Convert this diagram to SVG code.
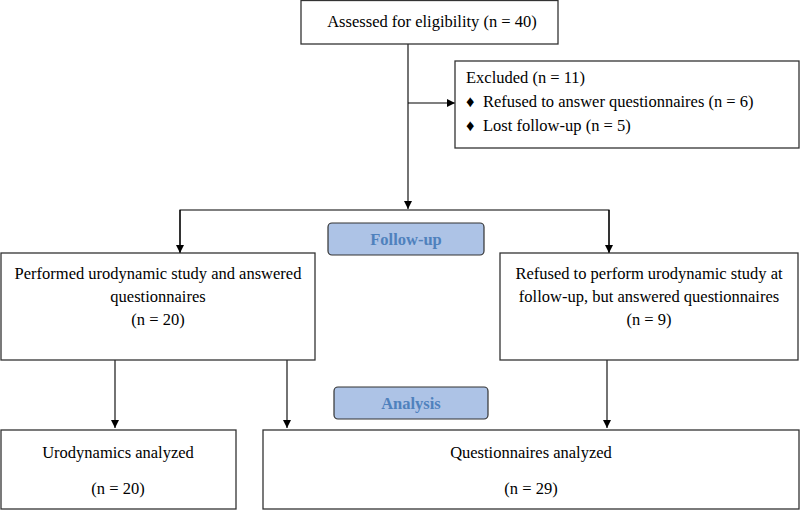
<svg xmlns="http://www.w3.org/2000/svg" width="800" height="510" viewBox="0 0 800 510">
<style>
.box{fill:#fff;stroke:#333;stroke-width:1.3}
.lbl{fill:#adc3e6;stroke:#333;stroke-width:1.2}
text{font-family:"Liberation Serif","Times New Roman",serif;font-size:16.5px;fill:#000}
.c{text-anchor:middle}
.h{font-weight:bold;fill:#4f81bd;font-size:16.5px}
.ln{stroke:#000;stroke-width:1.1;fill:none}
</style>
<defs>
<marker id="ah" viewBox="0 0 10 10" refX="10" refY="5" markerWidth="9" markerHeight="8" markerUnits="userSpaceOnUse" orient="auto">
<path d="M0,0 L10,5 L0,10 z" fill="#000"/>
</marker>
</defs>
<g id="connectors">
<path class="ln" d="M408,44 V209" marker-end="url(#ah)"/>
<path class="ln" d="M408,103 H455" marker-end="url(#ah)"/>
<path class="ln" d="M180,253 V210 H609 V253" />
<path class="ln" d="M180,210 V253" marker-end="url(#ah)"/>
<path class="ln" d="M609,210 V253" marker-end="url(#ah)"/>
<path class="ln" d="M115,360 V428" marker-end="url(#ah)"/>
<path class="ln" d="M287,360 V428" marker-end="url(#ah)"/>
<path class="ln" d="M607,360 V428" marker-end="url(#ah)"/>
</g>
<g id="assessed">
<rect class="box" x="301" y="0.5" width="257" height="43.5"/>
<text class="c" x="432" y="27">Assessed for eligibility (n = 40)</text>
</g>
<g id="excluded">
<rect class="box" x="455" y="61" width="344" height="87"/>
<text x="466" y="83">Excluded (n = 11)</text>
<text x="466" y="107">♦</text>
<text x="483" y="107">Refused to answer questionnaires (n = 6)</text>
<text x="466" y="131">♦</text>
<text x="483" y="131">Lost follow-up (n = 5)</text>
</g>
<g id="followup">
<rect class="lbl" x="328" y="223" width="156" height="32" rx="4"/>
<text class="c h" x="406" y="245">Follow-up</text>
</g>
<g id="performed">
<rect class="box" x="1" y="253" width="314" height="107"/>
<text class="c" x="158" y="279">Performed urodynamic study and answered</text>
<text class="c" x="158" y="302">questionnaires</text>
<text class="c" x="158" y="325">(n = 20)</text>
</g>
<g id="refused">
<rect class="box" x="500" y="253" width="298" height="107"/>
<text class="c" x="649" y="279">Refused to perform urodynamic study at</text>
<text class="c" x="649" y="302">follow-up, but answered questionnaires</text>
<text class="c" x="649" y="325">(n = 9)</text>
</g>
<g id="analysis">
<rect class="lbl" x="334" y="387" width="154" height="32" rx="4"/>
<text class="c h" x="411" y="409">Analysis</text>
</g>
<g id="urodynamics">
<rect class="box" x="1" y="430" width="235" height="79"/>
<text class="c" x="118" y="458">Urodynamics analyzed</text>
<text class="c" x="118" y="494">(n = 20)</text>
</g>
<g id="questionnaires">
<rect class="box" x="263" y="430" width="536" height="79"/>
<text class="c" x="531" y="458">Questionnaires analyzed</text>
<text class="c" x="531" y="494">(n = 29)</text>
</g>
</svg>
